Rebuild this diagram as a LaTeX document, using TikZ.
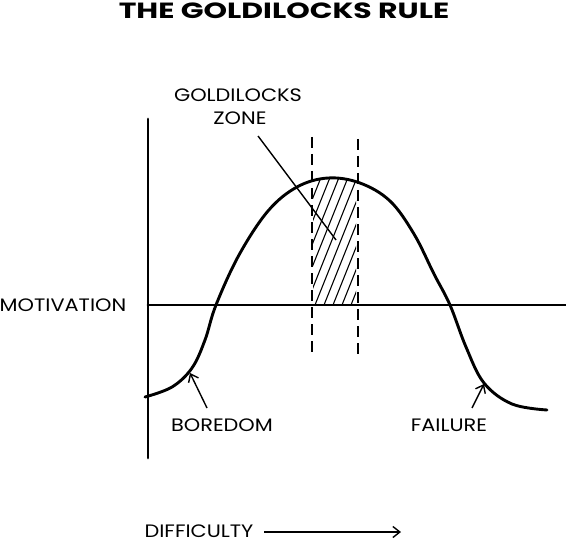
\documentclass[tikz,border=0pt]{standalone}
\usepackage{fontspec}
\setmainfont{Poppins}
\usetikzlibrary{arrows.meta}
\newcommand\lbw[1]{\scalebox{1.16}[1]{#1}}
\newcommand\ttw[1]{\scalebox{1.36}[1]{#1}}
\begin{document}
\begin{tikzpicture}[x=1pt,y=-1pt,
  lbl/.style={font=\fontsize{18}{20}\selectfont, inner sep=0pt, anchor=base, text depth=0pt},
  axis/.style={line width=2.8pt, line cap=round},
  curve/.style={line width=2.9pt, line cap=round},
  ptr/.style={line width=1.4pt},
  zonedash/.style={line width=1.8pt, dash pattern=on 11pt off 6pt},
  hatch/.style={line width=1.1pt},
  tipbarb/.style={-{Straight Barb[length=7pt,width=11pt,line width=1.4pt]}}
]
\useasboundingbox (0,0) rectangle (566,543);
% title
\node[font=\fontsize{22}{24}\selectfont\bfseries, inner sep=0pt, anchor=base, text depth=0pt] (title) at (284,19) {\ttw{THE GOLDILOCKS RULE}};
% axes
\coordinate (ytop) at (148,119);
\coordinate (ybot) at (148,458);
\coordinate (xl) at (148,305);
\coordinate (xr) at (566,305);
\draw[axis] (ytop) -- (ybot);
\draw[axis] (xl) -- (xr);
\node[lbl] (mot) at (63,311) {\lbw{MOTIVATION}};
% curve
\def\curvepts{(145,397) (172,387) (192,368) (205,340) (216,305) (239,255) (268,211) (297,187) (328,178) (360,183) (390,201) (414,234) (434,274) (450,305) (466,347) (484,383) (512,404) (547,410)}
% hatching
\begin{scope}
  \clip (313,150) rectangle (356,305);
  \clip plot[smooth,tension=0.6] coordinates {\curvepts} -- (547,600) -- (145,600) -- cycle;
  \foreach \i in {-8,...,12} {
    \draw[hatch] (300+9*\i,320) -- (300+9*\i+62,165);
  }
\end{scope}
\draw[curve] plot[smooth,tension=0.6] coordinates {\curvepts};
% dashed zone lines
\coordinate (dlt) at (312,137);
\coordinate (dlb) at (312,357);
\coordinate (drt) at (358,139);
\coordinate (drb) at (358,355);
\draw[zonedash] (dlt) -- (dlb);
\draw[zonedash] (drt) -- (drb);
% goldilocks zone label
\node[lbl] (gz1) at (238,102) {\lbw{GOLDILOCKS}};
\node[lbl] (gz2) at (240,125) {\lbw{ZONE}};
\coordinate (gzs) at (258,136);
\coordinate (gze) at (336,240);
\draw[ptr] (gzs) -- (gze);
% boredom
\node[lbl] (bor) at (222,431) {\lbw{BOREDOM}};
\coordinate (bors) at (207,408);
\coordinate (bore) at (190,373);
\draw[ptr,tipbarb] (bors) -- (bore);
% failure
\node[lbl] (fail) at (449,431) {\lbw{FAILURE}};
\coordinate (fails) at (472,408);
\coordinate (faile) at (484,384);
\draw[ptr,tipbarb] (fails) -- (faile);
% difficulty
\node[lbl] (dif) at (199,537) {\lbw{DIFFICULTY}};
\coordinate (difs) at (264,532);
\coordinate (dife) at (401,532);
\draw[ptr,tipbarb] (difs) -- (dife);
\end{tikzpicture}
\end{document}
